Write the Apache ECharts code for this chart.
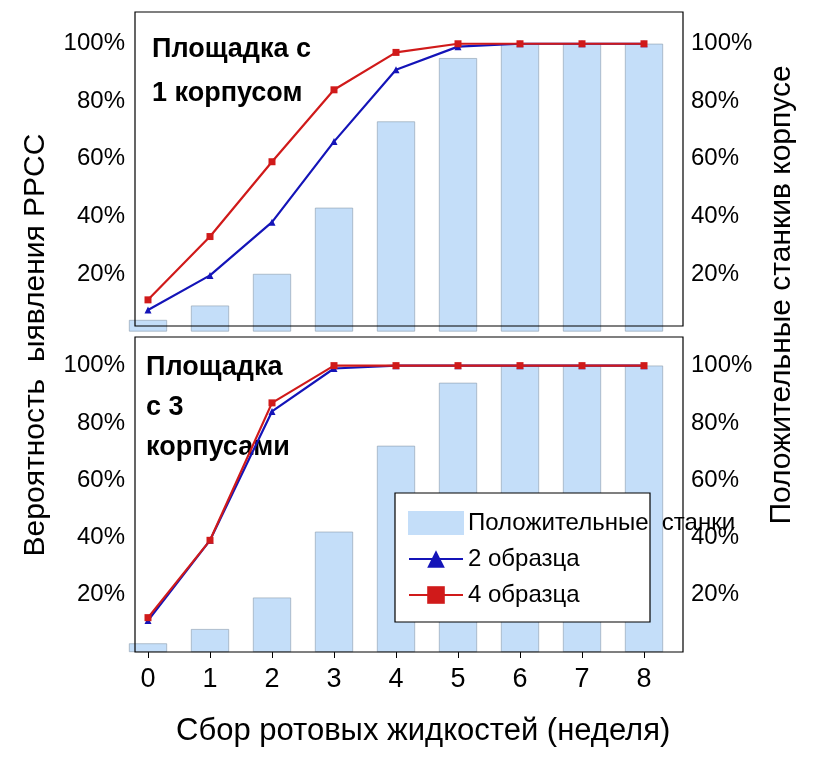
<!DOCTYPE html>
<html><head><meta charset="utf-8">
<script src="https://cdn.jsdelivr.net/npm/echarts@6/dist/echarts.min.js"></script>
<style>html,body{margin:0;background:#fff}#c{width:820px;height:776px}</style>
</head><body><div id="c"></div>
<script>
var weeks = ['0','1','2','3','4','5','6','7','8'];
var topBars = [4, 9, 20, 43, 73, 95, 100, 100, 100];
var topBlue = [7.5, 19.5, 38, 66, 91, 99, 100, 100, 100];
var topRed = [11, 33, 59, 84, 97, 100, 100, 100, 100];
var botBars = [3, 8, 19, 42, 72, 94, 100, 100, 100];
var botBlue = [11, 39, 84, 99, 100, 100, 100, 100, 100];
var botRed = [12, 39, 87, 100, 100, 100, 100, 100, 100];

var font = 'Liberation Sans, Arial, sans-serif';
var echart = echarts.init(document.getElementById('c'));
function pct(v){ return (v % 20 || v == 0 || v > 100) ? '' : v + '%'; }
function yAx(grid, side){
    return {type: 'value', gridIndex: grid, position: side, offset: side == 'left' ? 13 : 39,
        min: 0, max: 110, interval: 20,
        splitLine: {show: false}, axisLine: {show: false},
        axisTick: {show: false},
        axisLabel: {formatter: pct, color: '#000', fontSize: 24, fontFamily: font, margin: side == 'left' ? 10 : 8}};
}
function xAx(grid, labels){
    return {type: 'category', gridIndex: grid, data: weeks, boundaryGap: false,
        axisLine: {show: false}, axisTick: {show: labels, length: 6, lineStyle: {color: '#000'}},
        axisLabel: {show: labels, color: '#000', fontSize: 27, fontFamily: font, margin: 14}};
}
function bar(i, d, name){
    return {name: name, type: 'bar', xAxisIndex: i, yAxisIndex: i * 2, data: d, barWidth: 38, clip: false,
        itemStyle: {color: '#c4def9', borderColor: '#8a9aab', borderWidth: 0.6}, z: 1};
}
function line(i, d, name, color, symbol){
    return {name: name, type: 'line', xAxisIndex: i, yAxisIndex: i * 2, data: d, symbol: symbol, symbolSize: 7,
        lineStyle: {color: color, width: 2.2}, itemStyle: {color: color}, z: 3};
}
var option = {
    animation: false,
    grid: [
        {left: 148, right: 176, top: 15, height: 316.5},
        {left: 148, right: 176, top: 337, height: 315}
    ],
    xAxis: [xAx(0, false), xAx(1, true)],
    yAxis: [yAx(0, 'left'), yAx(0, 'right'), yAx(1, 'left'), yAx(1, 'right')],
    legend: {
        left: 400, top: 503, orient: 'vertical', itemGap: 12,
        padding: 8, itemWidth: 54, itemHeight: 22,
        textStyle: {fontSize: 24, fontFamily: font, color: '#000'},
        data: [
            {name: 'Положительные  станки', icon: 'rect', itemStyle: {color: '#c4def9', borderColor: '#c4def9'}},
            {name: '2 образца', itemStyle: {borderWidth: 0}},
            {name: '4 образца', itemStyle: {borderWidth: 0}}
        ]
    },
    series: [
        bar(0, topBars, 'Положительные  станки'),
        line(0, topBlue, '2 образца', '#1414b8', 'triangle'),
        line(0, topRed, '4 образца', '#d01a1a', 'rect'),
        bar(1, botBars, 'Положительные  станки'),
        line(1, botBlue, '2 образца', '#1414b8', 'triangle'),
        line(1, botRed, '4 образца', '#d01a1a', 'rect')
    ],
    graphic: [
        {type: 'rect', shape: {x: 135, y: 12, width: 548, height: 314}, style: {fill: 'none', stroke: '#000', lineWidth: 1.2}, z: 10},
        {type: 'rect', shape: {x: 135, y: 337, width: 548, height: 315}, style: {fill: 'none', stroke: '#000', lineWidth: 1.2}, z: 10},
        {type: 'rect', shape: {x: 395, y: 493, width: 255, height: 129}, style: {fill: '#fff', stroke: '#000', lineWidth: 1.2}, z: 4},
        {type: 'text', left: 152, top: 28, style: {text: 'Площадка с\n1 корпусом', font: 'bold 27px ' + font, lineHeight: 44, fill: '#000'}},
        {type: 'text', left: 146, top: 348, style: {text: 'Площадка\nс 3\nкорпусами', font: 'bold 27px ' + font, lineHeight: 40, fill: '#000'}},
        {type: 'text', left: 176, top: 716, style: {text: 'Сбор ротовых жидкостей (неделя)', font: '31px ' + font, fill: '#000'}},
        {type: 'text', x: 36, y: 345, rotation: Math.PI / 2, style: {text: 'Вероятность  ыявления PPCC', font: '30px ' + font, fill: '#000', align: 'center', verticalAlign: 'middle'}},
        {type: 'text', x: 782, y: 295, rotation: Math.PI / 2, style: {text: 'Положительные станкив корпусе', font: '30px ' + font, fill: '#000', align: 'center', verticalAlign: 'middle'}}
    ]
};
echart.setOption(option);
</script>
</body></html>
